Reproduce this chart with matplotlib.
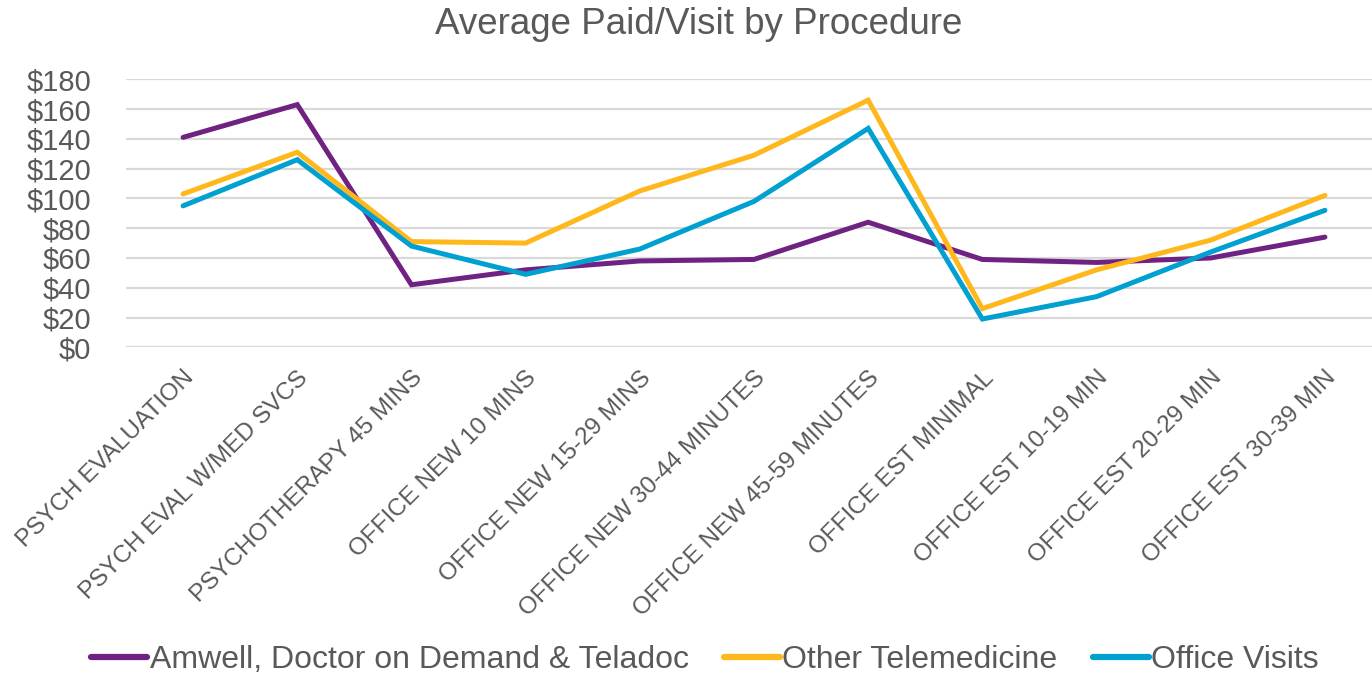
import matplotlib
matplotlib.use("Agg")
import matplotlib.pyplot as plt
from matplotlib.ticker import FuncFormatter, MultipleLocator

categories = ["PSYCH EVALUATION", "PSYCH EVAL W/MED SVCS", "PSYCHOTHERAPY 45 MINS",
              "OFFICE NEW 10 MINS", "OFFICE NEW 15-29 MINS", "OFFICE NEW 30-44 MINUTES",
              "OFFICE NEW 45-59 MINUTES", "OFFICE EST MINIMAL", "OFFICE EST 10-19 MIN",
              "OFFICE EST 20-29 MIN", "OFFICE EST 30-39 MIN"]
amwell = [141, 163, 42, 52, 58, 59, 84, 59, 57, 60, 74]
other_tele = [103, 131, 71, 70, 105, 129, 166, 26, 52, 72, 102]
office = [95, 126, 68, 49, 66, 98, 147, 19, 34, 64, 92]

series_names = ["Amwell, Doctor on Demand & Teladoc", "Other Telemedicine", "Office Visits"]
colors = ["#702283", "#FFB81C", "#00A1D0"]

plt.rcParams['font.family'] = ['Liberation Sans', 'DejaVu Sans']
text_color = "#595959"

fig = plt.figure(figsize=(13.72, 6.75), dpi=100)
ax = fig.add_axes([126/1372, 1-347.3/675, 1256/1372, 268/675])

x = list(range(len(categories)))
for vals, name, c in zip([amwell, other_tele, office], series_names, colors):
    ax.plot(x, vals, color=c, lw=3.6, label=name, solid_capstyle='round', solid_joinstyle='miter')

ax.set_xlim(-0.5, len(categories) - 0.5)
ax.set_ylim(0, 180)
ax.yaxis.set_major_locator(MultipleLocator(20))
ax.yaxis.set_major_formatter(FuncFormatter(lambda v, p: f"${v:.0f}"))
ax.grid(axis='y', color='#D9D9D9', lw=1.6)
ax.set_axisbelow(True)
for s in ax.spines.values():
    s.set_visible(False)
ax.tick_params(axis='both', length=0, colors=text_color)
ax.tick_params(axis='y', labelsize=21, pad=25)
ax.set_xticks(x)
ax.set_xticklabels(categories, rotation=45, ha='right', va='top', rotation_mode='anchor', fontsize=17.5)
ax.tick_params(axis='x', pad=14)

fig.text(699/1372, 1-34/675, "Average Paid/Visit by Procedure", ha='center', va='baseline',
         fontsize=26.5, color=text_color)

leg = fig.legend(loc='center', bbox_to_anchor=(705/1372, 1-660/675), ncol=3, frameon=False,
                 fontsize=23, handlelength=1.75, handletextpad=0.08, columnspacing=1.1,
                 labelcolor=text_color)
for h in leg.legend_handles:
    h.set_linewidth(4.5)

fig.savefig("out.png", dpi=100)
